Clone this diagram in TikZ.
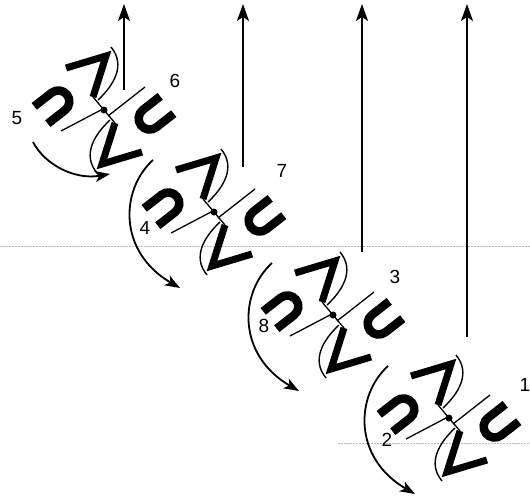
\documentclass[tikz,border=0pt]{standalone}
\usepackage{fontspec}
\setmainfont{Liberation Sans}
\usetikzlibrary{arrows.meta,positioning}

\begin{document}
\begin{tikzpicture}[
        x=1pt,
        y=-1pt,
        every node/.style={
                font=\fontsize{19}{22}\selectfont,
                inner sep=0pt
            },
        glyph/.style={
                line width=8.5pt,
                line join=miter
            },
        chevron/.style={
                line width=7pt,
                line join=miter
            },
        axisline/.style={
                line width=1.3pt
            },
        wave/.style={
                line width=1.4pt
            },
        rise/.style={
                line width=1.8pt,
                -{Stealth[length=17pt,width=12pt,inset=4pt]}
            },
        turn/.style={
                line width=1.8pt,
                -{Stealth[length=15pt,width=11pt,inset=4pt]}
            },
        scanline/.style={
                gray!55,
                line width=0.6pt,
                dash pattern=on 1.5pt off 1.5pt
            }
    ]
    \useasboundingbox (0,0) rectangle (530,498);

    % faint ruling of the scanned page
    \draw[scanline] (0,246) -- (530,246);
    \draw[scanline] (338,443) -- (530,443);

    \foreach \i/\cx/\cy/\fx/\fy in {1/104/110/124/90, 2/214/212/243/167,
            3/333/315/362/252, 4/449/418/467/337} {
            \coordinate (c\i) at (\cx,\cy);
            \coordinate (foot\i) at (\fx,\fy);
            \coordinate (tip\i) at (\fx,4);
            \draw[rise] (foot\i) -- (tip\i);
            \begin{scope}[shift={(c\i)}]
                % the two U halves
                \begin{scope}[shift={(-63,5)}, rotate=38]
                    \draw[glyph] (0,-11) -- (22,-11) arc[start angle=90, end angle=-90, radius=11pt] -- (0,11);
                \end{scope}
                \begin{scope}[shift={(63,-5)}, rotate=218]
                    \draw[glyph] (0,-11) -- (22,-11) arc[start angle=90, end angle=-90, radius=11pt] -- (0,11);
                \end{scope}
                % chevrons
                \draw[chevron] (-38,-42) -- (2,-54) -- (-11,-13);
                \draw[chevron] (38,42) -- (-2,54) -- (11,13);
                \draw[axisline] (-11,-13) -- (11,13);
                % axis
                \draw[axisline] (-43,21) -- (-3,0);
                \draw[axisline] (4,6) -- (41,-23);
                \fill (0,0) circle[radius=3.5pt];
                % S curve
                \draw[wave] (7,-63) .. controls (22,-45) and (10,-25) .. (-6,-10);
                \draw[wave] (-7,63) .. controls (-22,45) and (-10,25) .. (6,10);
            \end{scope}
        }

    % turning arrows
    \draw[turn] (33,142) .. controls (45,165) and (75,180) .. (110,174);
    \foreach \i in {2,3,4} {
            \draw[turn] ([shift={(-61,-52)}]c\i) .. controls ([shift={(-94,-22)}]c\i)
            and ([shift={(-96,40)}]c\i) .. ([shift={(-34,76)}]c\i);
        }

    % numbering
    \node (n5) at (17,118) {5};
    \node (n6) at (175,81) {6};
    \node (n7) at (282,171) {7};
    \node (n4) at (145,228) {4};
    \node (n3) at (395,277) {3};
    \node (n8) at (264,326) {8};
    \node (n1) at (525,385) {1};
    \node (n2) at (387,440) {2};

\end{tikzpicture}
\end{document}
